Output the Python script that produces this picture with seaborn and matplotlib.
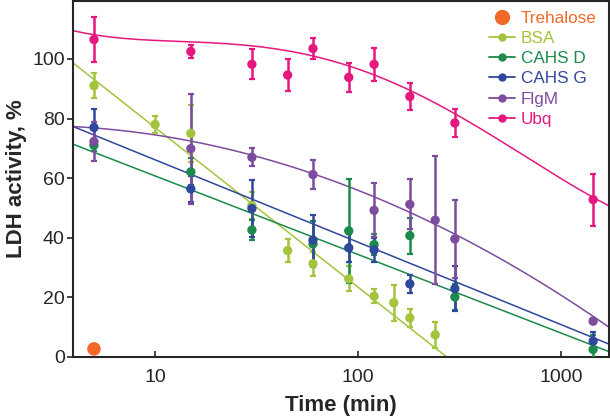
import numpy as np
import matplotlib
matplotlib.use("Agg")
import matplotlib.pyplot as plt
import seaborn as sns
from matplotlib.lines import Line2D

# --- data (time in min, LDH activity in %) ---
trehalose_t = [5]
trehalose_y = [2.7]

bsa_t = [5, 10, 15, 30, 45, 60, 90, 120, 150, 180, 240]
bsa_y = [91.0, 78.0, 75.0, 50.8, 35.7, 31.3, 26.2, 20.4, 18.2, 13.1, 7.4]
bsa_e = [4.2, 2.8, 9.5, 4.4, 4.0, 4.0, 4.2, 2.3, 6.0, 3.0, 4.3]

cahs_d_t = [5, 15, 30, 60, 90, 120, 180, 300, 1440]
cahs_d_y = [71.0, 62.1, 42.6, 37.9, 42.3, 37.7, 40.7, 20.1, 2.5]
cahs_d_e = [2.0, 4.5, 3.3, 7.8, 17.5, 3.5, 6.0, 4.5, 5.0]

cahs_g_t = [5, 15, 30, 60, 90, 120, 180, 300, 1440]
cahs_g_y = [77.0, 56.4, 49.8, 39.2, 36.6, 35.9, 24.5, 22.9, 5.3]
cahs_g_e = [6.2, 4.3, 9.5, 8.5, 4.8, 4.0, 3.0, 7.5, 3.0]

flgm_t = [5, 15, 30, 60, 120, 180, 240, 300, 1440]
flgm_y = [72.3, 69.9, 67.0, 61.2, 49.2, 51.2, 45.9, 39.6, 12.0]
flgm_e = [6.5, 18.5, 3.0, 5.0, 9.0, 8.4, 21.5, 13.0, 1.0]

ubq_t = [5, 15, 30, 45, 60, 90, 120, 180, 300, 1440]
ubq_y = [106.5, 102.5, 98.2, 94.6, 103.5, 93.8, 98.2, 87.4, 78.5, 52.8]
ubq_e = [7.5, 2.3, 5.0, 5.5, 3.5, 5.0, 5.5, 4.6, 4.7, 8.7]

# fitted curves: polynomial coefficients in log10(time), highest power first
fit_bsa = [-53.6, 130.6]
fit_cahs_d = [-26.36, 87.1]
fit_cahs_g = [-27.65, 93.8]
fit_flgm = [-8.30, 6.31, 76.5]
fit_ubq = [4.0075, -31.6526, 76.1470, -76.5823, 134.2986]

colors = {
    "Trehalose": "#f26a2a",
    "BSA": "#a3c43c",
    "CAHS D": "#1b8a4a",
    "CAHS G": "#2f479c",
    "FlgM": "#7d4c9e",
    "Ubq": "#e6177f",
}

series = [
    ("BSA", bsa_t, bsa_y, bsa_e, fit_bsa),
    ("CAHS D", cahs_d_t, cahs_d_y, cahs_d_e, fit_cahs_d),
    ("CAHS G", cahs_g_t, cahs_g_y, cahs_g_e, fit_cahs_g),
    ("FlgM", flgm_t, flgm_y, flgm_e, fit_flgm),
    ("Ubq", ubq_t, ubq_y, ubq_e, fit_ubq),
]

sns.set_style("ticks")
plt.rcParams["font.family"] = ["Liberation Sans", "DejaVu Sans"]

fig = plt.figure(figsize=(6.1, 4.16), dpi=100)
ax = fig.add_axes([0.12, 0.142, 0.878, 0.856])

xmin, xmax = 3.95, 1720
tt = np.logspace(np.log10(xmin), np.log10(xmax), 300)

for name, t, y, e, fit in series:
    c = colors[name]
    sns.lineplot(x=tt, y=np.polyval(fit, np.log10(tt)), ax=ax, color=c, lw=1.1, zorder=2)
    ax.errorbar(t, y, yerr=e, fmt="none", ecolor=c, elinewidth=1.8, capsize=2.5,
                capthick=1.6, zorder=3)
    sns.scatterplot(x=t, y=y, ax=ax, color=c, s=45, edgecolor="none", zorder=4)

sns.scatterplot(x=trehalose_t, y=trehalose_y, ax=ax, color=colors["Trehalose"],
                s=95, edgecolor="none", zorder=5)

ax.set_xscale("log")
ax.set_xlim(xmin, xmax)
ax.set_ylim(0, 119.5)
ax.set_yticks([0, 20, 40, 60, 80, 100])
ax.set_xticks([10, 100, 1000])
ax.set_xticklabels(["10", "100", "1000"])
ax.xaxis.set_minor_locator(matplotlib.ticker.NullLocator())
ax.tick_params(axis="y", which="major", direction="out", length=4, width=1.2,
               labelsize=14, right=True, pad=2)
ax.tick_params(axis="x", which="major", direction="in", length=4, width=1.2,
               labelsize=14, pad=9)
for s in ax.spines.values():
    s.set_linewidth(1.5)
    s.set_visible(True)
ax.set_xlabel("Time (min)", fontsize=16, fontweight="bold", labelpad=6)
ax.set_ylabel("LDH activity, %", fontsize=16, fontweight="bold", labelpad=4)

handles = [Line2D([], [], color=colors["Trehalose"], marker="o", ls="none", ms=10)]
for name, *_ in series:
    handles.append(Line2D([], [], color=colors[name], marker="o", ms=5, lw=1.3))
labels = ["Trehalose"] + [s[0] for s in series]
leg = ax.legend(handles, labels, loc="upper right", frameon=False, fontsize=12.3,
                handlelength=1.5, handletextpad=0.35, labelspacing=0.3,
                bbox_to_anchor=(0.997, 1.0), borderaxespad=0.2)
for txt, name in zip(leg.get_texts(), labels):
    txt.set_color(colors[name])

fig.savefig("out.png", dpi=100)
